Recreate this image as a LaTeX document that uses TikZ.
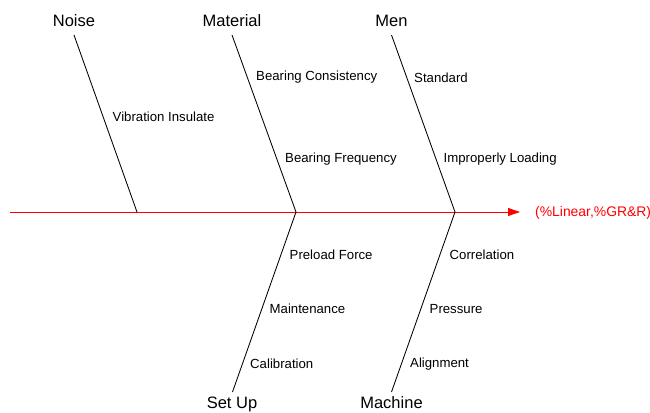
\documentclass[tikz,border=0pt]{standalone}
\usepackage{fontspec}
\setmainfont{Liberation Sans}
\usetikzlibrary{arrows.meta}
\begin{document}
\begin{tikzpicture}[x=1pt,y=-1pt,
  cat/.style={font=\fontsize{16.5}{18}\selectfont, inner sep=0pt, anchor=base},
  cause/.style={font=\fontsize{13.2}{15}\selectfont, anchor=west, inner sep=0pt},
  bone/.style={draw=black, line width=0.85pt},
  spine/.style={draw=red, line width=0.85pt, -{Triangle[length=12pt,width=8pt]}}]
\useasboundingbox (0,0) rectangle (650,412);
% spine
\coordinate (s0) at (10,212);
\coordinate (s1) at (520,212);
\coordinate (j1) at (137,212);
\coordinate (j2) at (296,212);
\coordinate (j3) at (455,212);
\draw[spine] (s0) -- (s1);
\node[font=\fontsize{13.9}{15}\selectfont, text=red, anchor=west, inner sep=0pt] (eff) at (535,213) {(\%Linear,\%GR\&R)};
% category labels
\node[cat] (noise) at (74,26.5) {Noise};
\node[cat] (material) at (232,26.5) {Material};
\node[cat] (men) at (391.5,26.5) {Men};
\node[cat] (setup) at (232,408.5) {Set Up};
\node[cat] (machine) at (391.5,408.5) {Machine};
% bone ends
\coordinate (t1) at (74,35);
\coordinate (t2) at (232,35);
\coordinate (t3) at (391.5,35);
\coordinate (b2) at (232.5,392);
\coordinate (b3) at (391.5,392);
\draw[bone] (t1) -- (j1);
\draw[bone] (t2) -- (j2);
\draw[bone] (t3) -- (j3);
\draw[bone] (j2) -- (b2);
\draw[bone] (j3) -- (b3);
% causes
\node[cause] (c1) at (112.5,117) {Vibration Insulate};
\node[cause] (c2) at (256,77.5) {Bearing Consistency};
\node[cause] (c3) at (285,159) {Bearing Frequency};
\node[cause] (c4) at (414,77.5) {Standard};
\node[cause] (c5) at (443.5,159) {Improperly Loading};
\node[cause] (c6) at (289.5,255) {Preload Force};
\node[cause] (c7) at (269.5,309) {Maintenance};
\node[cause] (c8) at (250,364) {Calibration};
\node[cause] (c9) at (449.5,255) {Correlation};
\node[cause] (c10) at (429.5,309) {Pressure};
\node[cause] (c11) at (410,364) {Alignment};
\end{tikzpicture}
\end{document}
